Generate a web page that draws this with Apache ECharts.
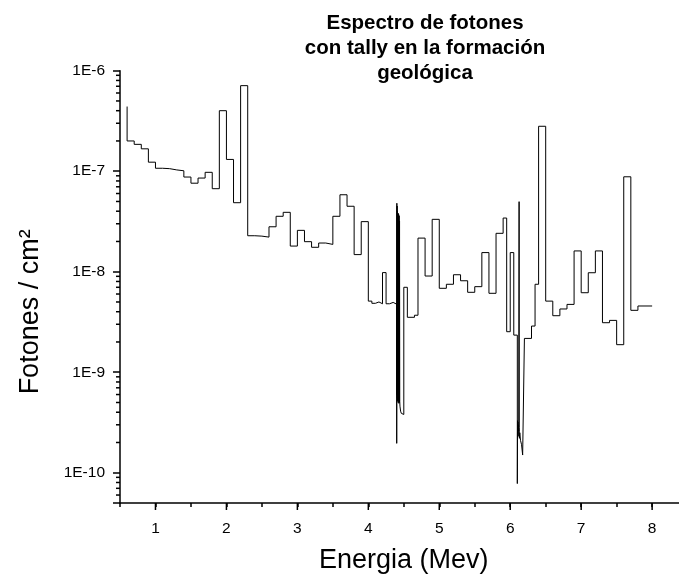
<!DOCTYPE html>
<html>
<head>
<meta charset="utf-8">
<script src="https://cdn.jsdelivr.net/npm/echarts@6/dist/echarts.min.js"></script>
<style>
  html, body { margin: 0; padding: 0; background: #fff; }
  #chart { width: 679px; height: 578px; }
</style>
</head>
<body>
<div id="chart"></div>
<script>
const energia = [
  0.6, 0.7, 0.8, 0.9, 1.0, 1.1, 1.2, 1.3, 1.4, 1.5, 1.6, 1.7, 1.8, 1.9, 2.0,
  2.1, 2.2, 2.3, 2.4, 2.5, 2.6, 2.7, 2.8, 2.9, 3.0, 3.1, 3.2, 3.3, 3.4, 3.5,
  3.6, 3.7, 3.8, 3.9, 4.0, 4.05, 4.1, 4.15, 4.2, 4.25, 4.3, 4.35, 4.4,
  // pico fino ~4.43 MeV
  4.402, 4.404, 4.406, 4.408, 4.410, 4.413, 4.416, 4.419, 4.422, 4.425,
  4.428, 4.431, 4.434, 4.437, 4.440, 4.443, 4.446, 4.455, 4.465, 4.475, 4.5,
  4.55, 4.65, 4.7, 4.8, 4.9, 5.0, 5.1, 5.2, 5.3, 5.4, 5.5, 5.6, 5.7, 5.8,
  5.9, 5.95, 6.0, 6.05, 6.1,
  // pico fino ~6.13 MeV
  6.103, 6.106, 6.109, 6.112, 6.115, 6.12, 6.125, 6.127, 6.129, 6.135,
  6.145, 6.16, 6.175, 6.2,
  6.3, 6.35, 6.4, 6.5, 6.6, 6.7, 6.8, 6.9, 7.0, 7.1, 7.2, 7.3, 7.4, 7.5,
  7.6, 7.7, 7.8, 8.0
];
const fotones = [
  4.4e-7, 2.0e-7, 1.85e-7, 1.67e-7, 1.23e-7, 1.07e-7, 1.06e-7, 1.03e-7, 1.01e-7, 8.75e-8, 7.6e-8, 8.55e-8, 9.75e-8, 6.7e-8, 4.0e-7,
  1.31e-7, 4.86e-8, 7.1e-7, 2.28e-8, 2.26e-8, 2.21e-8, 2.8e-8, 3.56e-8, 3.9e-8, 1.8e-8, 2.58e-8, 1.99e-8, 1.75e-8, 1.93e-8, 1.87e-8,
  3.56e-8, 5.83e-8, 4.48e-8, 1.48e-8, 3.15e-8, 5.1e-9, 4.85e-9, 5.0e-9, 4.8e-9, 9.8e-9, 4.8e-9, 4.95e-9, 4.75e-9,
  1.96e-10, 4.8e-8, 6.0e-10, 4.5e-8, 5.5e-10, 4.0e-8, 5.2e-10, 3.8e-8, 5.0e-10, 3.8e-8,
  5.3e-10, 3.7e-8, 4.9e-10, 3.6e-8, 5.0e-10, 3.2e-8, 5.1e-10, 4.6e-10, 4.1e-10, 3.9e-10, 3.8e-10,
  7.0e-9, 3.52e-9, 3.69e-9, 2.16e-8, 9.06e-9, 3.32e-8, 6.84e-9, 7.5e-9, 9.33e-9, 8.13e-9, 6.24e-9, 7.1e-9, 1.55e-8, 6.1e-9,
  2.41e-8, 3.42e-8, 2.53e-9, 1.55e-8, 2.34e-9,
  7.8e-11, 3.3e-10, 2.4e-10, 3.2e-10, 2.3e-10, 3.0e-10, 2.6e-10, 4.98e-8, 2.8e-10, 2.2e-10,
  2.5e-10, 2.1e-10, 1.9e-10, 1.5e-10,
  2.17e-9, 2.88e-9, 7.5e-9, 2.8e-7, 5.1e-9, 3.65e-9, 4.26e-9, 4.73e-9, 1.61e-8, 6.18e-9, 9.77e-9, 1.61e-8, 3.11e-9, 3.28e-9,
  1.88e-9, 8.8e-8, 4.13e-9, 4.56e-9
];

const xMin = 0.5, xMax = 8.5;
const yMin = 5e-11, yMax = 1e-6;
const xMajorTicks = [1, 2, 3, 4, 5, 6, 7, 8];

// minor log ticks 2..9 per decade
const yMinorTicks = [];
for (let k = -11; k <= -7; k++) {
  for (let m = 2; m <= 9; m++) {
    const v = m * Math.pow(10, k);
    if (v > yMin * 1.0001 && v < yMax) yMinorTicks.push(v);
  }
}

const font = 'Liberation Sans, Arial, sans-serif';
const chart = echarts.init(document.getElementById('chart'));

chart.setOption({
  animation: false,
  backgroundColor: '#fff',
  title: {
    text: 'Espectro de fotones\ncon tally en la formación\ngeológica',
    left: 425,
    top: 11,
    padding: 0,
    textAlign: 'center',
    textStyle: { fontFamily: font, fontSize: 20.5, fontWeight: 'bold', lineHeight: 25, color: '#000' }
  },
  grid: { left: 120, top: 70.7, width: 567.6, height: 432.3, outerBoundsMode: 'none', containLabel: false },
  xAxis: {
    type: 'value',
    min: xMin,
    max: xMax,
    interval: 0.5,
    name: 'Energia (Mev)',
    nameLocation: 'middle',
    nameGap: 44,
    nameTextStyle: { fontFamily: font, fontSize: 27, color: '#000' },
    axisLine: { lineStyle: { color: '#000', width: 1.5 } },
    axisTick: { show: true, length: 4, lineStyle: { color: '#000', width: 1.5 } },
    axisLabel: {
      margin: 18,
      fontFamily: font, fontSize: 15.5, color: '#000',
      formatter: v => (Number.isInteger(v) ? String(v) : '')
    },
    splitLine: { show: false }
  },
  yAxis: {
    type: 'log',
    logBase: 10,
    min: yMin,
    max: yMax,
    name: 'Fotones / cm²',
    nameLocation: 'middle',
    nameRotate: 90,
    nameGap: 76,
    nameTextStyle: { fontFamily: font, fontSize: 27, color: '#000', padding: [0, 50, 0, 0] },
    axisLine: { show: true, lineStyle: { color: '#000', width: 1.5 } },
    axisTick: { show: true, length: 7, lineStyle: { color: '#000', width: 1.5 } },
    axisLabel: {
      margin: 15,
      fontFamily: font, fontSize: 15.5, color: '#000',
      formatter: v => {
        const e = Math.log10(v);
        const r = Math.round(e);
        return Math.abs(e - r) < 1e-6 ? '1E' + r : '';
      }
    },
    splitLine: { show: false }
  },
  series: [
    {
      name: 'espectro',
      type: 'line',
      step: 'start',
      showSymbol: false,
      data: energia.map((x, i) => [x, fotones[i]]),
      lineStyle: { color: '#000', width: 1 }
    },
    {
      // longer ticks at integer energies
      type: 'custom',
      silent: true,
      data: xMajorTicks.map(v => [v, yMin]),
      renderItem: (params, api) => {
        const p = api.coord([api.value(0), api.value(1)]);
        return {
          type: 'line',
          shape: { x1: p[0], y1: p[1], x2: p[0], y2: p[1] + 7 },
          style: { stroke: '#000', lineWidth: 1.5 }
        };
      }
    },
    {
      // minor log ticks on y axis
      type: 'custom',
      silent: true,
      data: yMinorTicks.map(v => [xMin, v]),
      renderItem: (params, api) => {
        const p = api.coord([api.value(0), api.value(1)]);
        return {
          type: 'line',
          shape: { x1: p[0] - 4, y1: p[1], x2: p[0], y2: p[1] },
          style: { stroke: '#000', lineWidth: 1.5 }
        };
      }
    }
  ]
});
</script>
</body>
</html>
